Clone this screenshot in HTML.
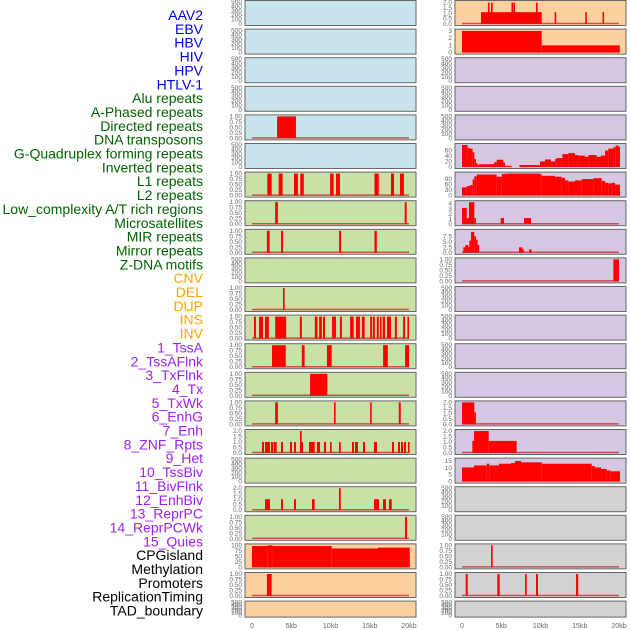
<!DOCTYPE html>
<html><head><meta charset="utf-8"><style>
html,body{margin:0;padding:0;background:#fff;width:630px;height:630px;overflow:hidden}
svg{display:block;font-family:"Liberation Sans",sans-serif}
</style></head><body>
<svg id="chart" width="630" height="630" viewBox="0 0 630 630" xmlns="http://www.w3.org/2000/svg"></svg>
<script>
// ---- data ----
const trackNames = ["AAV2","EBV","HBV","HIV","HPV","HTLV-1","Alu repeats","A-Phased repeats","Directed repeats","DNA transposons","G-Quadruplex forming repeats","Inverted repeats","L1 repeats","L2 repeats","Low_complexity A/T rich regions","Microsatellites","MIR repeats","Mirror repeats","Z-DNA motifs","CNV","DEL","DUP","INS","INV","1_TssA","2_TssAFlnk","3_TxFlnk","4_Tx","5_TxWk","6_EnhG","7_Enh","8_ZNF_Rpts","9_Het","10_TssBiv","11_BivFlnk","12_EnhBiv","13_ReprPC","14_ReprPCWk","15_Quies","CPGisland","Methylation","Promoters","ReplicationTiming","TAD_boundary"];
const groupOf = [0,0,0,0,0,0,1,1,1,1,1,1,1,1,1,1,1,1,1,2,2,2,2,2,3,3,3,3,3,3,3,3,3,3,3,3,3,3,3,4,4,4,4,4];
const xTickKb = [0,5,10,15,20];
const xTickLabels = ["0","5kb","10kb","15kb","20kb"];

const hpvBars = [[3.2,5.6,1]];
const aluBars = [[1.95,2.5,1],[3.4,3.9,1],[5.35,5.85,1],[6.15,6.6,1],[9.95,10.4,1],[10.7,11.2,1],[15.6,16.15,1],[17.7,18.1,1],[18.85,19.35,1]];
const aphasedBars = [[2.95,3.3,1],[19.45,19.7,1]];
const directedBars = [[1.9,2.25,1],[3.7,3.95,1],[11.1,11.35,1],[15.6,15.9,1]];
const gquadBars = [[3.95,4.15,1]];
const invertedBars = [[0.25,0.5,1],[0.9,1.4,1],[1.65,2.15,1],[2.95,4.35,1],[6.1,6.35,1],[8.0,8.35,1],[8.55,8.9,1],[9.05,9.3,1],[10.2,10.7,1],[11.2,11.45,1],[12.5,12.95,1],[13.25,13.75,1],[14.0,14.35,1],[15.05,15.3,1],[15.4,15.65,1],[15.9,16.15,1],[16.3,16.5,1],[16.65,16.95,1],[17.2,17.7,1],[18.2,18.45,1],[19.25,19.5,1],[19.8,20.0,1]];
const l1Bars = [[2.55,4.3,1],[6.35,6.7,1],[9.55,10.15,1],[16.7,17.3,1],[19.5,20.0,1]];
const l2Bars = [[7.4,9.6,1]];
const lowComplexityBars = [[2.95,3.3,1],[10.45,10.65,1],[15.05,15.25,1],[18.7,18.95,1]];
const microsatBars = [[1.27,1.53,1],[1.66,2.29,1],[2.42,2.72,1],[2.8,3.14,1],[3.7,3.95,1],[4.84,5.1,1],[5.35,5.6,1],[6.24,6.5,1],[7.26,7.98,1],[8.28,8.66,1],[9.17,9.43,1],[9.94,10.15,1],[11.08,11.3,1],[12.74,12.99,1],[13.12,13.5,1],[14.14,14.4,1],[15.54,15.92,1],[17.83,18.09,1],[18.6,18.85,1],[18.98,19.24,1],[19.36,19.62,1],[19.87,20.0,1],[6.11,6.33,2]];
const mirrorBars = [[1.66,2.29,1],[3.7,3.95,1],[5.35,5.6,1],[7.64,7.98,1],[15.54,16.18,1],[16.69,17.07,1],[17.45,17.8,1],[11.08,11.3,2]];
const zdnaBars = [[19.5,19.75,1]];
const cnvBars = [[0,2,97],[2,2.6,100],[2.6,10.15,97],[10.15,16.05,86],[16.05,20.1,90]];
const delBars = [[1.9,2.5,1]];
const insBars = [[2.42,10.15,1.1],[3.3,3.5,2],[3.7,3.9,2],[6.3,6.5,2],[6.55,6.75,2],[9.43,9.64,2],[11.8,12.0,1.1],[15.7,15.9,1.1],[17.9,18.1,1.1]];
const invBars = [[0,10.15,3],[10.15,20.1,1]];
const txBars = [[0,0.72,79],[0.72,1.02,68],[1.02,1.36,66],[1.36,1.57,53],[1.57,1.74,29],[1.74,1.95,14],[1.95,2.2,9],[2.2,4.08,10],[4.08,4.42,17],[4.42,5.27,26],[5.27,5.48,16],[5.48,6.33,4],[7.31,9.94,7],[9.94,10.57,20],[10.57,11.34,27],[11.34,11.85,20],[11.85,12.06,29],[12.06,12.78,32],[12.78,13.55,46],[13.55,14.39,50],[14.39,14.82,43],[14.82,15.67,41],[15.67,16.09,37],[16.09,17.15,43],[17.15,17.71,37],[17.71,18.22,41],[18.22,18.64,59],[18.64,19.28,66],[19.28,19.58,71],[19.58,19.92,77],[19.92,20.13,73]];
const txWkBars = [[0,0.6,45],[0.6,1.02,52],[1.02,1.36,57],[1.36,1.57,88],[1.57,1.87,105],[1.87,4.42,115],[4.42,5.06,103],[5.06,5.48,118],[5.48,9.94,120],[9.94,10.15,117],[10.15,11.85,108],[11.85,12.7,103],[12.7,13.12,97],[13.12,13.55,83],[13.55,14.39,77],[14.39,15.25,83],[15.25,16.73,90],[16.73,17.8,95],[17.8,18.22,80],[18.22,18.64,70],[18.64,19.07,67],[19.07,19.5,70],[19.5,20.13,60]];
const enhGBars = [[0,0.6,3.2],[0.6,0.89,1.2],[0.89,1.57,4.3],[1.57,1.78,1.2],[4.93,5.35,1.2],[7.9,8.79,1.2]];
const enhBars = [[0.17,0.42,2.5],[0.42,0.81,3.5],[0.81,0.93,2.5],[0.93,1.15,5.5],[1.15,1.57,9.5],[1.57,1.78,7.5],[1.78,1.99,6],[1.99,2.17,3.5],[7.26,7.69,2.5],[7.69,7.9,1.5],[8.54,8.87,1.5]];
const znfBars = [[19.28,20.0,1]];
const reprPCBars = [[0,1.57,2],[1.57,1.74,1.1]];
const reprPCWkBars = [[1.32,1.53,1.1],[1.53,3.4,2],[3.4,6.96,1.1]];
const quiesBars = [[0,1.53,10.3],[1.53,3.15,11.8],[3.15,3.48,13],[3.48,4.71,11.8],[4.71,6.24,13],[6.24,6.75,13.5],[6.75,7.52,15],[7.52,10.15,14],[10.15,16.52,13],[16.52,16.94,11.3],[16.94,17.71,10.3],[17.71,18.43,9.2],[18.43,18.94,8.1],[18.94,20.13,7.5]];
const promoterBars = [[3.7,3.9,1]];
const replicationBars = [[0.47,0.73,1],[4.5,4.8,1],[8.03,8.24,1],[9.43,9.68,1],[14.52,14.8,1]];

const ticks01 = ["1.00","0.75","0.50","0.25","0.00"];
const ticks02 = ["2.0","1.5","1.0","0.5","0.0"];
const ticksEmpty = ["500","400","300","200","100","0"];
// track index -> [bars, ymax, tickValues, tickLabels, baseline]
const trackBars = {4:hpvBars,6:aluBars,7:aphasedBars,8:directedBars,10:gquadBars,11:invertedBars,12:l1Bars,13:l2Bars,14:lowComplexityBars,15:microsatBars,17:mirrorBars,18:zdnaBars,19:cnvBars,20:delBars,22:insBars,23:invBars,27:txBars,28:txWkBars,29:enhGBars,30:enhBars,31:znfBars,36:reprPCBars,37:reprPCWkBars,38:quiesBars,41:promoterBars,42:replicationBars};
const trackYmax = {4:1,6:1,7:1,8:1,10:1,11:1,12:1,13:1,14:1,15:2,17:2,18:1,19:100,20:1,22:2.05,23:3.05,27:79,28:120,29:4.3,30:10,31:1,36:2,37:2,38:16,41:1,42:1};
const trackTickVals = {15:[2,1.5,1,0.5,0],17:[2,1.5,1,0.5,0],19:[100,75,50,25,0],22:[2,1.5,1,0.5,0],23:[3,2,1,0],27:[60,40,20,0],28:[90,60,30,0],29:[4,3,2,1,0],30:[7.5,5,2.5,0],36:[2,1.5,1,0.5,0],37:[2,1.5,1,0.5,0],38:[15,10,5,0]};
const trackTickLabels = {15:ticks02,17:ticks02,19:["100","75","50","25","0"],22:ticks02,23:["3","2","1","0"],27:["60","40","20","0"],28:["90","60","30","0"],29:["4","3","2","1","0"],30:["7.5","5.0","2.5","0.0"],36:ticks02,37:ticks02,38:["15","10","5","0"]};
const noBaseline = {19:1,23:1,27:1,28:1,38:1};

// ---- styles / layout ----
const labelColors = ["#0000ee","#006400","#ffa500","#a020f0","#000000"];
const panelFill = ["#c8e4ec","#c8e1a6","#fdd0a0","#d5c6e2","#d2d2d2"];
const colLeft = [245, 455];
const panelW = 171;
const pitch = 28.6;
const NS = "http://www.w3.org/2000/svg";
const svg = document.getElementById('chart');
function mk(tag, attrs, parent){const e=document.createElementNS(NS,tag);for(const k in attrs)e.setAttribute(k,attrs[k]);(parent||svg).appendChild(e);return e;}

// labels
trackNames.forEach((n,i)=>{
  const t = mk('text',{x:203,y:15+i*13.85+5,'text-anchor':'end','font-size':'14',fill:labelColors[groupOf[i]]});
  
  
  t.textContent = n;
});

trackNames.forEach((n,i)=>{
  const col = i<22?0:1, row = i%22;
  const left = colLeft[col];
  const top = 0.5 + row*pitch;
  const h = row===21 ? 16 : 25;
  const g = mk('g',{});
  
  
  const bg = mk('rect',{x:left,y:top,width:panelW,height:h,fill:panelFill[groupOf[i]],stroke:'#666','stroke-width':1},g);
  
  
  const bars = trackBars[i];
  const ymax = bars ? trackYmax[i] : 500;
  const bottom = top + h - 1.5, inner = h - 3;
  const xs = kb => left + 7 + kb*7.85;
  const ys = v => bottom - (v/ymax)*inner;
  // ticks
  let tv, tl;
  if (!bars) { tv=[500,400,300,200,100,0]; tl=ticksEmpty; }
  else if (trackTickVals[i]) { tv=trackTickVals[i]; tl=trackTickLabels[i]; }
  else { tv=[1,0.75,0.5,0.25,0]; tl=ticks01; }
  tv.forEach((v,k)=>{
    const t = mk('text',{x:left-3,y:ys(v)+2,'text-anchor':'end','font-size':'6.5',fill:'#666'},g);
    
    
    t.textContent = tl[k];
  });
  if (bars) {
    bars.forEach(b=>{
      const x1 = xs(Math.max(0,b[0])), x2 = xs(b[1]);
      const r = mk('rect',{x:x1,y:ys(b[2]),width:Math.max(1.6,x2-x1),height:bottom-ys(b[2]),fill:'#ff0000'},g);
      
      
    });
    if (!noBaseline[i]) {
      const l = mk('line',{x1:xs(0),x2:xs(20),y1:bottom-0.5,y2:bottom-0.5,stroke:'rgba(205,30,30,0.75)','stroke-width':1.5},g);
      
      
    }
  }
});

// x-axis labels
[0,1].forEach(c=>{
  xTickKb.forEach((kb,k)=>{
    const t = mk('text',{x:colLeft[c]+7+kb*7.85,y:628,'text-anchor':'middle','font-size':'7',fill:'#666'});
    
    
    t.textContent = xTickLabels[k];
  });
});
</script>
</body></html>
